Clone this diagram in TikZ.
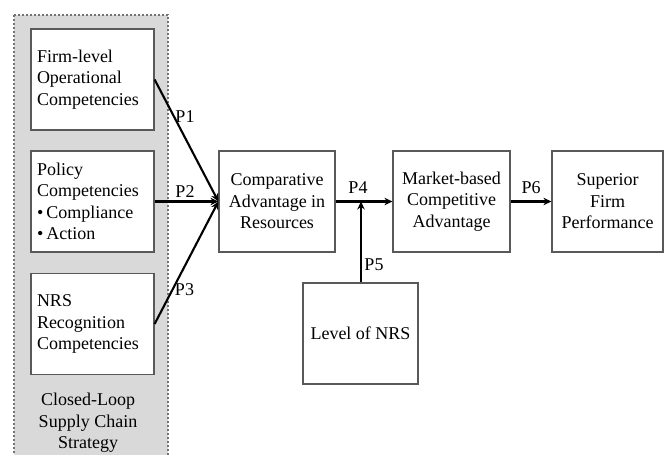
\documentclass[tikz,border=0pt]{standalone}
\usepackage{fontspec}
\setmainfont{LiberationSerif}[Extension=.ttf, UprightFont=*-Regular, BoldFont=*-Bold, ItalicFont=*-Italic, BoldItalicFont=*-BoldItalic]
\usetikzlibrary{arrows.meta}
\begin{document}
\begin{tikzpicture}[x=1pt,y=-1pt,
  txt/.style={font=\rmfamily\fontsize{18}{21.5}\selectfont},
  lbox/.style={txt, draw=black!65, line width=1.2pt, fill=white, minimum width=123pt, minimum height=101pt, text width=111pt, inner sep=6pt, align=left},
  cbox/.style={txt, draw=black!65, line width=1.2pt, fill=white, minimum height=101pt, inner sep=3pt, align=center},
  arr/.style={line width=2.1pt, -{Stealth[length=8pt,width=7.5pt]}},
  plabel/.style={txt, inner sep=0pt}]
\clip (0,0) rectangle (664,455);
\useasboundingbox (0,0) rectangle (664,455);
% dashed strategy panel
\path[fill=black!15, draw=black!55, dash pattern=on 2pt off 2pt, line width=1.2pt] (14,15) rectangle (168,470);
% left boxes
\node[lbox] (firm) at (92.5,79.5) {Firm-level\\Operational\\Competencies};
\node[lbox] (policy) at (92.5,201.5) {Policy\\Competencies\\\textbullet\,Compliance\\\textbullet\,Action};
\node[lbox] (nrsrec) at (92.5,324) {NRS\\Recognition\\Competencies};
\node[txt, align=center] (clsc) at (88,423) {Closed-Loop\\Supply Chain\\Strategy};
% main boxes
\node[cbox, minimum width=116pt] (comp) at (277,201.5) {Comparative\\Advantage in\\Resources};
\node[cbox, minimum width=117pt] (market) at (451.5,201.5) {Market-based\\Competitive\\Advantage};
\node[cbox, minimum width=111pt] (sup) at (607.5,201.5) {Superior\\Firm\\Performance};
\node[cbox, minimum width=115pt] (level) at (360.5,333.5) {Level of NRS};
\coordinate (j) at (361,201.5);
% connectors
\draw[arr] (firm.east) -- (comp.west);
\draw[arr] (policy.east) -- (comp.west);
\draw[arr] (nrsrec.east) -- (comp.west);
\draw[arr] (comp.east) -- (market.west);
\draw[arr] (level.north -| j) -- (j);
\draw[arr] (market.east) -- (sup.west);
% labels
\node[plabel] (p1) at (185,117) {P1};
\node[plabel] (p2) at (185,192) {P2};
\node[plabel] (p3) at (184.5,290) {P3};
\node[plabel] (p4) at (358,188) {P4};
\node[plabel] (p5) at (374,265) {P5};
\node[plabel] (p6) at (531,188) {P6};
\end{tikzpicture}
\end{document}
